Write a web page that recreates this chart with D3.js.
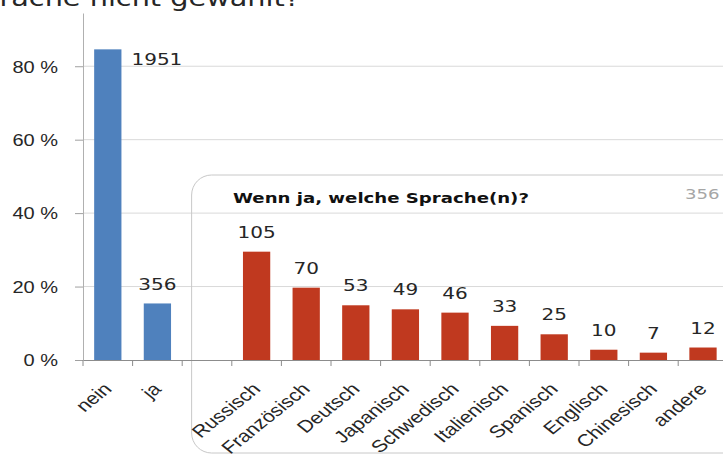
<!DOCTYPE html>
<html>
<head>
<meta charset="utf-8">
<script src="https://cdn.jsdelivr.net/npm/d3@7"></script>
<style>
  body { margin: 0; background: #fff; }
  svg { display: block; font-family: "DejaVu Sans", Verdana, sans-serif; }
</style>
</head>
<body>
<div id="chart"></div>
<script>
// ------------------------------
// Data
// ------------------------------

const mainCategories = ["nein", "ja"];
const mainCounts = [1951, 356];
const mainShares = [0.846, 0.154];

const languageCategories = [
  "Russisch", "Französisch", "Deutsch", "Japanisch", "Schwedisch",
  "Italienisch", "Spanisch", "Englisch", "Chinesisch", "andere"
];
const languageCounts = [105, 70, 53, 49, 46, 33, 25, 10, 7, 12];
const languageShares = [0.295, 0.197, 0.149, 0.138, 0.129, 0.093, 0.070, 0.028, 0.020, 0.034];

const yTicks = [0, 0.2, 0.4, 0.6, 0.8];
const mainTitle = "Sprache nicht gewählt?";
const insetTitle = "Wenn ja, welche Sprache(n)?";
const insetTotal = "356";

// ------------------------------
// Layout
// ------------------------------

const width = 723;
const height = 457;
const stretch = 1.25; // the original glyphs are drawn wide
const blue = "#4f81bd";
const red = "#c0391f";
const textColor = "#262626";

// one empty slot between the two groups of bars
const xDomain = [...mainCategories, "", ...languageCategories];

const svg = d3.select("#chart").append("svg").attr("width", width).attr("height", height);

const x = d3.scaleBand().domain(xDomain).range([83, 727.8]).padding(0);
const y = d3.scaleLinear().domain([0, 0.945]).range([360, 13]);

const barOffset = x.bandwidth() * 0.225;
const barWidth = x.bandwidth() * 0.55;

// helper for wide text
function wideText(g, px, py, str, size, anchor) {
  return g
    .append("text")
    .attr("transform", `translate(${px},${py}) scale(${stretch},1)`)
    .attr("font-size", size)
    .attr("text-anchor", anchor)
    .attr("fill", textColor)
    .text(str);
}

// Title (cut off at the top, as in the original picture)
wideText(svg, 300, 6, mainTitle, 23, "end");

// Gridlines
svg
  .append("g")
  .selectAll("line")
  .data(yTicks.filter((d) => d > 0))
  .join("line")
  .attr("x1", x.range()[0])
  .attr("x2", width)
  .attr("y1", (d) => y(d))
  .attr("y2", (d) => y(d))
  .attr("stroke", "#d9d9d9");

// Inset box for the language breakdown
const boxLeft = x("") + x.bandwidth() * 0.19;
svg
  .append("rect")
  .attr("x", boxLeft)
  .attr("y", 175)
  .attr("width", 600)
  .attr("height", 278)
  .attr("rx", 20)
  .attr("fill", "none")
  .attr("stroke", "#c8c8c8");

const title = svg.append("g");
wideText(title, 233, 203, insetTitle, 14.5, "start").attr("font-weight", "bold").attr("fill", "#111");
wideText(title, 685, 199, insetTotal, 14.5, "start").attr("fill", "#a6a6a6");

// Bars
svg
  .append("g")
  .selectAll("rect")
  .data(mainCategories.map((c, i) => ({ c, v: mainShares[i] })))
  .join("rect")
  .attr("x", (d) => x(d.c) + barOffset)
  .attr("y", (d) => y(d.v))
  .attr("width", barWidth)
  .attr("height", (d) => y(0) - y(d.v))
  .attr("fill", blue);

svg
  .append("g")
  .selectAll("rect")
  .data(languageCategories.map((c, i) => ({ c, v: languageShares[i] })))
  .join("rect")
  .attr("x", (d) => x(d.c) + barOffset)
  .attr("y", (d) => y(d.v))
  .attr("width", barWidth)
  .attr("height", (d) => y(0) - y(d.v))
  .attr("fill", red);

// Data labels
const labels = svg.append("g");
mainCategories.forEach((c, i) => {
  if (i === 0) {
    // first label sits beside the tall bar
    wideText(labels, x(c) + barOffset + barWidth + 10, y(mainShares[i]) + 16, mainCounts[i], 16, "start");
  } else {
    wideText(labels, x(c) + x.bandwidth() / 2, y(mainShares[i]) - 13, mainCounts[i], 16, "middle");
  }
});
languageCategories.forEach((c, i) => {
  wideText(labels, x(c) + x.bandwidth() / 2, y(languageShares[i]) - 14, languageCounts[i], 16, "middle");
});

// Y axis
const yAxis = svg
  .append("g")
  .attr("transform", `translate(${x.range()[0]},0)`)
  .call(
    d3
      .axisLeft(y)
      .tickValues(yTicks)
      .tickSize(8)
      .tickSizeOuter(0)
      .tickFormat((d) => Math.round(d * 100) + " %")
  );
yAxis.select(".domain").attr("stroke", "#b0b0b0");
yAxis.selectAll(".tick line").attr("stroke", "#a0a0a0");
yAxis
  .selectAll(".tick text")
  .attr("x", null)
  .attr("dy", "0.36em")
  .attr("transform", `translate(-25,0) scale(${stretch},1)`)
  .attr("font-size", 16)
  .attr("font-family", null)
  .attr("fill", textColor);

// X axis: labels centred, ticks between categories
const xAxis = svg
  .append("g")
  .attr("transform", `translate(0,${y(0)})`)
  .call(d3.axisBottom(x).tickSize(0).tickSizeOuter(0));
xAxis.select(".domain").attr("stroke", "#8c8c8c");
xAxis
  .selectAll(".tick text")
  .attr("y", null)
  .attr("dy", null)
  .attr("transform", `translate(5,30) scale(${stretch},1) rotate(-45)`)
  .attr("text-anchor", "end")
  .attr("font-size", 17)
  .attr("font-family", null)
  .attr("fill", textColor);

svg
  .append("g")
  .selectAll("line")
  .data(xDomain)
  .join("line")
  .attr("x1", (d) => x(d))
  .attr("x2", (d) => x(d))
  .attr("y1", y(0))
  .attr("y2", y(0) + 6)
  .attr("stroke", "#8c8c8c");
</script>
</body>
</html>
